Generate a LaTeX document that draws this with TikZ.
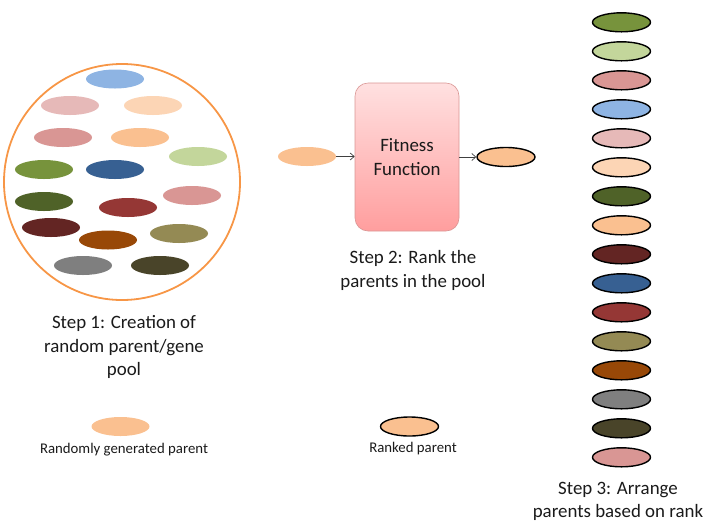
\documentclass[tikz,border=0pt]{standalone}
\usepackage{fontspec}
\setmainfont{Carlito}
\usetikzlibrary{shapes.geometric,arrows.meta}
\definecolor{cA}{HTML}{77933C}
\definecolor{cB}{HTML}{C3D69B}
\definecolor{cC}{HTML}{D99694}
\definecolor{cD}{HTML}{8EB4E3}
\definecolor{cE}{HTML}{E6B9B8}
\definecolor{cF}{HTML}{FCD5B5}
\definecolor{cG}{HTML}{4F6228}
\definecolor{cH}{HTML}{FAC090}
\definecolor{cI}{HTML}{632523}
\definecolor{cJ}{HTML}{376092}
\definecolor{cK}{HTML}{953735}
\definecolor{cL}{HTML}{948A54}
\definecolor{cM}{HTML}{984807}
\definecolor{cN}{HTML}{7F7F7F}
\definecolor{cO}{HTML}{494429}
\definecolor{poolorange}{HTML}{F79646}
\definecolor{txt}{HTML}{1A1A1A}
\tikzset{
  gene/.style={ellipse, minimum width=58pt, minimum height=19pt, inner sep=0pt, fill=#1, draw=none},
  ranked/.style={ellipse, minimum width=58pt, minimum height=19pt, inner sep=0pt, fill=#1, draw=black, line width=1.4pt},
  caption/.style={align=center, text=txt, font=\fontsize{18.9}{23.5}\selectfont},
  legend/.style={align=center, text=txt, font=\fontsize{14.8}{17}\selectfont},
  flow/.style={draw=black!75, line width=0.7pt, -{Straight Barb[length=4pt,width=7pt]}}
}
\begin{document}
\begin{tikzpicture}[x=1pt,y=-1pt]
\useasboundingbox (0,0) rectangle (709,531);
% pool
\node[circle, draw=poolorange, line width=1.8pt, minimum size=236pt, inner sep=0pt] (pool) at (122,182) {};
\node[gene=cD] (p1) at (115,79) {};
\node[gene=cE] (p2) at (70,105.5) {};
\node[gene=cF] (p3) at (153,105.5) {};
\node[gene=cC] (p4) at (63,137.5) {};
\node[gene=cH] (p5) at (140,137.5) {};
\node[gene=cB] (p6) at (198,156.5) {};
\node[gene=cA] (p7) at (44,169.5) {};
\node[gene=cJ] (p8) at (115,169.5) {};
\node[gene=cG] (p9) at (44,201.5) {};
\node[gene=cC] (p10) at (192,195.5) {};
\node[gene=cK] (p11) at (128,207.5) {};
\node[gene=cI] (p12) at (51,227.5) {};
\node[gene=cM] (p13) at (108,240) {};
\node[gene=cL] (p14) at (179,233.5) {};
\node[gene=cN] (p15) at (83,265.5) {};
\node[gene=cO] (p16) at (160,265.5) {};
\node[caption] (s1) at (124,347) {Step 1: Creation of\\random parent/gene\\pool};
% fitness
\node[gene=cH] (in) at (307,156.5) {};
\node[draw=cC, line width=0.6pt, rounded corners=13pt, minimum width=104pt, minimum height=148pt, top color=red!12!white, bottom color=red!38!white, caption, inner sep=0pt] (fit) at (407,157) {Fitness\\Function};
\node[ranked=cH] (out) at (506,157) {};
\draw[flow] (in) -- (fit.west |- in);
\draw[flow] (fit.east |- out) -- (out);
\node[caption] (s2) at (413,270.5) {Step 2: Rank the\\parents in the pool};
% ranked column
\foreach \c [count=\i from 0] in {cA,cB,cC,cD,cE,cF,cG,cH,cI,cJ,cK,cL,cM,cN,cO,cC}{
  \node[ranked=\c] (r\i) at (621.5,22.3+29*\i) {};
}
\node[caption] (s3) at (618,501.5) {Step 3: Arrange\\parents based on rank};
% legend
\node[gene=cH] (lg1) at (120.5,426.5) {};
\node[legend] (lt1) at (124,450) {Randomly generated parent};
\node[ranked=cH] (lg2) at (409.5,426.5) {};
\node[legend] (lt2) at (413,448.5) {Ranked parent};
\end{tikzpicture}
\end{document}
